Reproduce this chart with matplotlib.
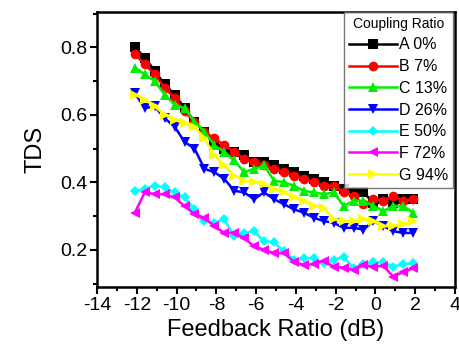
import matplotlib
matplotlib.use("Agg")
import matplotlib.pyplot as plt
from matplotlib.ticker import MultipleLocator

plt.rcParams['font.family'] = ['Liberation Sans', 'DejaVu Sans']
plt.rcParams['axes.unicode_minus'] = False

feedback_db = [-12.1, -11.6, -11.1, -10.6, -10.1, -9.6, -9.1, -8.6, -8.1, -7.6,
               -7.1, -6.6, -6.1, -5.6, -5.1, -4.6, -4.1, -3.6, -3.1, -2.6,
               -2.1, -1.6, -1.1, -0.6, -0.1, 0.4, 0.9, 1.4, 1.9]

tds_a = [0.80, 0.77, 0.73, 0.69, 0.66, 0.62, 0.58, 0.55, 0.51, 0.50,
         0.49, 0.48, 0.46, 0.46, 0.45, 0.44, 0.43, 0.42, 0.41, 0.40,
         0.39, 0.38, 0.37, 0.37, 0.34, 0.35, 0.34, 0.35, 0.35]
tds_b = [0.78, 0.75, 0.72, 0.68, 0.65, 0.61, 0.58, 0.55, 0.53, 0.51,
         0.49, 0.47, 0.46, 0.45, 0.44, 0.43, 0.42, 0.41, 0.40, 0.39,
         0.39, 0.37, 0.36, 0.335, 0.35, 0.345, 0.36, 0.345, 0.35]
tds_c = [0.74, 0.72, 0.70, 0.66, 0.63, 0.62, 0.58, 0.55, 0.51, 0.49,
         0.465, 0.43, 0.44, 0.45, 0.405, 0.40, 0.39, 0.375, 0.37, 0.365,
         0.37, 0.33, 0.345, 0.345, 0.33, 0.315, 0.33, 0.33, 0.31]
tds_d = [0.665, 0.62, 0.625, 0.59, 0.565, 0.52, 0.50, 0.44, 0.43, 0.41,
         0.375, 0.37, 0.35, 0.37, 0.35, 0.335, 0.32, 0.31, 0.295, 0.285,
         0.28, 0.265, 0.265, 0.26, 0.285, 0.27, 0.255, 0.25, 0.25]
tds_e = [0.375, 0.38, 0.39, 0.385, 0.37, 0.355, 0.32, 0.285, 0.28, 0.29,
         0.24, 0.25, 0.255, 0.225, 0.222, 0.195, 0.17, 0.175, 0.175, 0.16,
         0.17, 0.18, 0.145, 0.158, 0.163, 0.163, 0.15, 0.158, 0.16]
tds_f = [0.31, 0.37, 0.365, 0.365, 0.355, 0.33, 0.305, 0.295, 0.27, 0.25,
         0.25, 0.235, 0.21, 0.20, 0.19, 0.19, 0.165, 0.155, 0.157, 0.168,
         0.15, 0.147, 0.14, 0.155, 0.15, 0.153, 0.12, 0.134, 0.145]
tds_g = [0.66, 0.645, 0.625, 0.60, 0.585, 0.575, 0.565, 0.53, 0.48, 0.45,
         0.42, 0.405, 0.40, 0.395, 0.38, 0.37, 0.355, 0.345, 0.33, 0.325,
         0.29, 0.285, 0.285, 0.29, 0.285, 0.27, 0.27, 0.275, 0.285]

labels = ['A 0%', 'B 7%', 'C 13%', 'D 26%', 'E 50%', 'F 72%', 'G 94%']
series = [tds_a, tds_b, tds_c, tds_d, tds_e, tds_f, tds_g]
colors = ['#000000', '#ff0000', '#00ee00', '#0000ff', '#00ffff', '#ff00ff', '#ffff00']
markers = ['s', 'o', '^', 'v', 'D', '<', '>']
msizes = [6.5, 7, 7, 7, 5.5, 7, 7]

fig = plt.figure(figsize=(4.6, 3.52), dpi=100)
ax = fig.add_axes([0.211, 0.185, 0.778, 0.781])

for y, lab, c, m, ms in zip(series, labels, colors, markers, msizes):
    ax.plot(feedback_db, y, color=c, marker=m, markersize=ms, linewidth=1.8,
            markeredgewidth=0, label=lab)

ax.set_xlim(-14, 4)
ax.set_ylim(0.09, 0.905)
ax.xaxis.set_major_locator(MultipleLocator(2))
ax.xaxis.set_minor_locator(MultipleLocator(1))
ax.yaxis.set_major_locator(MultipleLocator(0.2))
ax.yaxis.set_minor_locator(MultipleLocator(0.1))
ax.set_yticks([0.2, 0.4, 0.6, 0.8])
ax.set_yticklabels(['0.2', '0.4', '0.6', '0.8'])

for s in ax.spines.values():
    s.set_linewidth(1.8)
ax.tick_params(which='major', direction='out', length=5, width=1.5, labelsize=14, pad=2)
ax.tick_params(which='minor', direction='out', length=3, width=1.5)

ax.set_xlabel('Feedback Ratio (dB)', fontsize=17, labelpad=4)
ax.set_ylabel('TDS', fontsize=17, labelpad=10)

leg = ax.legend(title='Coupling Ratio', loc='upper right', bbox_to_anchor=(0.995, 1.0),
                fontsize=11.5, title_fontsize=10, frameon=True, fancybox=False,
                handlelength=3.0, handletextpad=0.15, labelspacing=0.42,
                borderpad=0.3, borderaxespad=0.0)
leg.get_frame().set_edgecolor('#555555')
leg.get_frame().set_linewidth(1.0)

fig.savefig('out.png', dpi=100)
